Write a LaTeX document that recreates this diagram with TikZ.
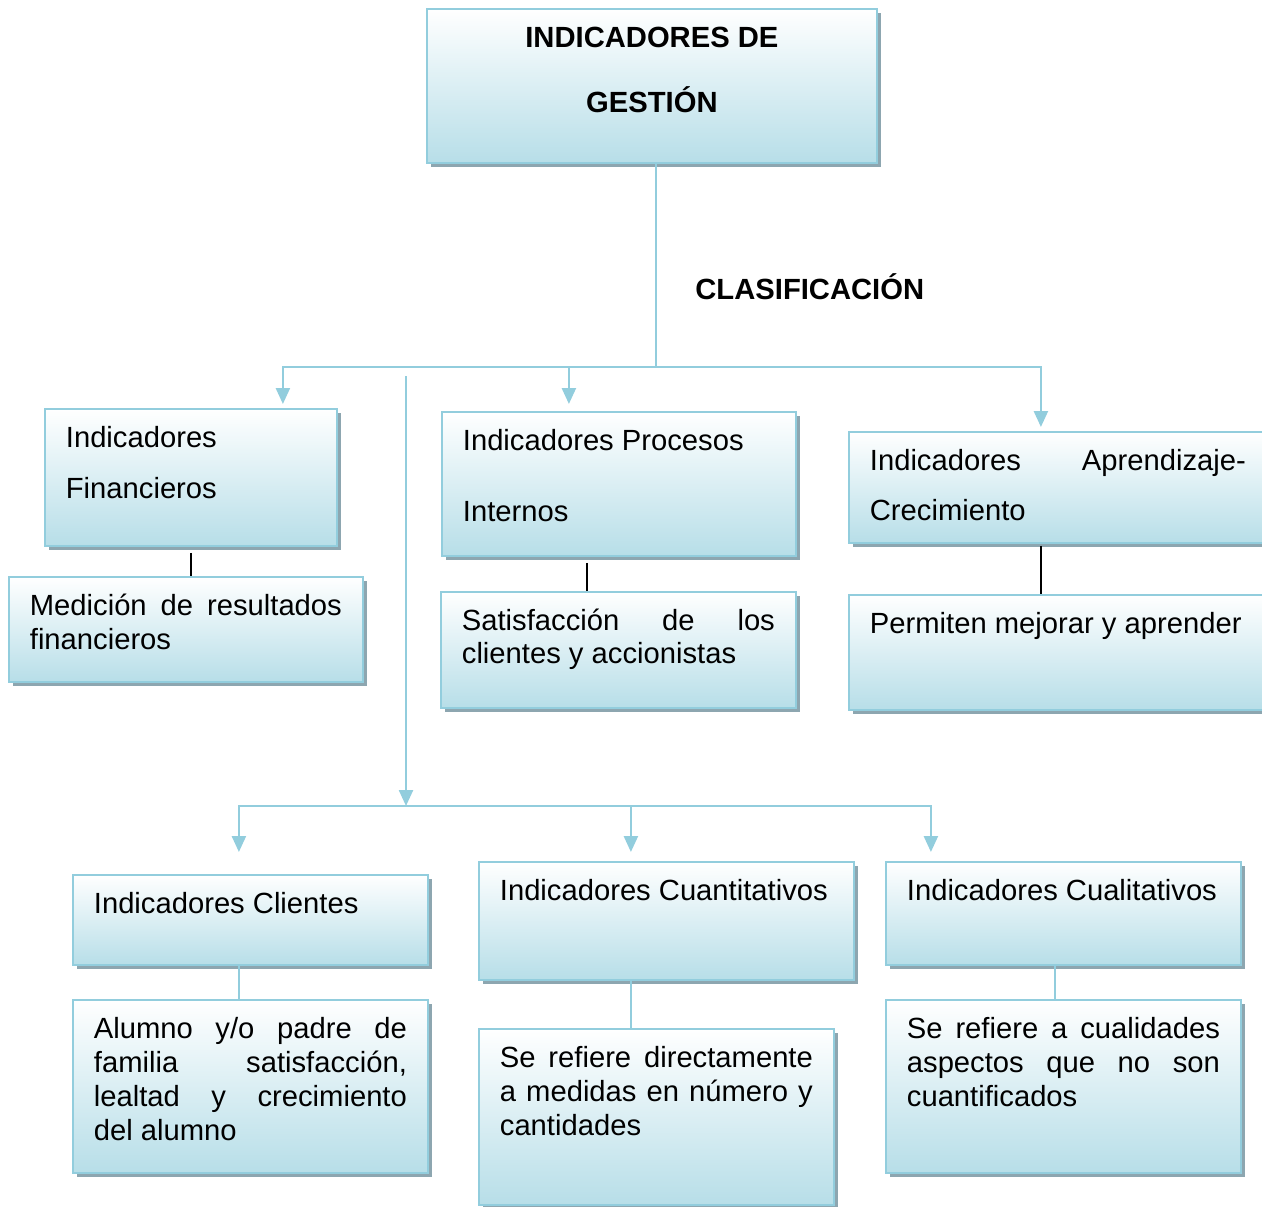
\documentclass[tikz,border=0pt]{standalone}
\usepackage{fontspec}
\setmainfont{Liberation Sans}
\usetikzlibrary{arrows.meta,shadows,calc}
\definecolor{borde}{RGB}{146,205,221}
\definecolor{fondo}{RGB}{183,222,232}
\definecolor{sombra}{RGB}{141,166,176}
\newcommand{\caja}[4]{\parbox[t][#2][t]{#1}{\fontsize{14.6}{#3}\selectfont\vspace*{5.5pt}\rule{0pt}{14pt}#4}}
\begin{document}
\begin{tikzpicture}[x=0.5pt, y=-0.5pt,
    caja/.style={draw=borde, line width=0.9pt, top color=white, bottom color=fondo,
      drop shadow={shadow xshift=2pt, shadow yshift=-2pt, fill=sombra, opacity=1},
      anchor=north west, inner xsep=10.5pt, inner ysep=0pt},
    flecha/.style={draw=borde, line width=1.2pt, -{Triangle[length=8pt,width=7pt]}},
    enlace/.style={draw=borde, line width=1.2pt},
    raya/.style={draw=black, line width=0.8pt}]
\useasboundingbox (0,0) rectangle (1262,1206);
\node[caja] (gestion) at (426,8) {\caja{204pt}{77pt}{32.5pt}{\centering\bfseries INDICADORES DE\\GESTIÓN}};
\node[anchor=base west, inner sep=0pt, font=\fontsize{14.6}{17}\selectfont\bfseries] (clasif) at (695,299.5) {CLASIFICACIÓN};
\node[caja] (fin) at (44,408) {\caja{125pt}{68.5pt}{25.5pt}{Indicadores\\Financieros}};
\node[caja] (finb) at (8,576) {\caja{156pt}{52.5pt}{17pt}{Medición de resultados\linebreak financieros}};
\node[caja] (proc) at (441,411) {\caja{156pt}{72pt}{35.5pt}{Indicadores Procesos\\Internos}};
\node[caja] (procb) at (440,591) {\caja{156.5pt}{58pt}{16.5pt}{Satisfacción de los\linebreak clientes y accionistas}};
\node[caja] (apr) at (848,431) {\caja{188pt}{55.5pt}{25pt}{Indicadores Aprendizaje-\linebreak Crecimiento}};
\node[caja] (aprb) at (848,594) {\caja{188pt}{57.5pt}{17pt}{Permiten mejorar y aprender}};
\node[caja] (cli) at (72,874) {\caja{156.5pt}{45pt}{17pt}{Indicadores Clientes}};
\node[caja] (clib) at (72,999) {\caja{156.5pt}{86.5pt}{16.9pt}{Alumno y/o padre de\linebreak familia satisfacción,\linebreak lealtad y crecimiento\linebreak del alumno}};
\node[caja] (cuan) at (478,861) {\caja{166.5pt}{59pt}{17pt}{Indicadores Cuantitativos}};
\node[caja] (cuanb) at (478,1028) {\caja{156.5pt}{88pt}{16.8pt}{Se refiere directamente\linebreak a medidas en número y\linebreak cantidades}};
\node[caja] (cual) at (885,861) {\caja{156.5pt}{51.5pt}{17pt}{Indicadores Cualitativos}};
\node[caja] (cualb) at (885,999) {\caja{156.5pt}{86.5pt}{16.9pt}{Se refiere a cualidades\linebreak aspectos que no son\linebreak cuantificados}};

\coordinate (bus1) at (656,367);
\coordinate (inicio2) at (406,376);
\coordinate (bus2) at (406,806);
\draw[enlace] (gestion.south -| bus1) -- (bus1);
\draw[flecha, shorten >=2pt] (bus1) -| ([xshift=46pt]fin.north);
\draw[flecha, shorten >=2pt] (bus1) -| ([xshift=-8.5pt]apr.north);
\draw[flecha, shorten >=3.5pt] ([xshift=-25pt]proc.north |- bus1) -- ([xshift=-25pt]proc.north);
\draw[flecha] (inicio2) -- (bus2);
\draw[flecha, shorten >=11pt] (bus2) -| ([xshift=-5.75pt]cli.north);
\draw[flecha, shorten >=4.5pt] (bus2) -| ([xshift=-66.25pt]cual.north);
\draw[flecha, shorten >=4.5pt] ([xshift=-17.75pt]cuan.north |- bus2) -- ([xshift=-17.75pt]cuan.north);
\draw[raya, shorten <=3pt] (fin.south) -- (fin.south |- finb.north);
\draw[raya, shorten <=3pt] ([xshift=-16pt]proc.south) -- ([xshift=-16pt]proc.south |- procb.north);
\draw[raya, shorten <=1pt] ([xshift=-8.5pt]apr.south) -- ([xshift=-8.5pt]apr.south |- aprb.north);
\draw[enlace] ([xshift=-5.75pt]cli.south) -- ([xshift=-5.75pt]cli.south |- clib.north);
\draw[enlace] ([xshift=-17.75pt]cuan.south) -- ([xshift=-17.75pt]cuan.south |- cuanb.north);
\draw[enlace] ([xshift=-4.25pt]cual.south) -- ([xshift=-4.25pt]cual.south |- cualb.north);
\end{tikzpicture}
\end{document}
